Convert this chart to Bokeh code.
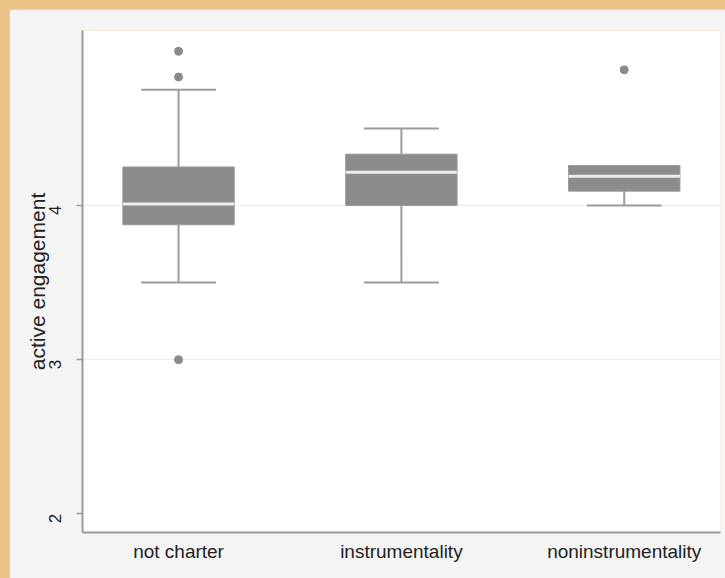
import math
from bokeh.plotting import figure
from bokeh.models import FixedTicker, Range1d
from bokeh.embed import file_html
from bokeh.resources import INLINE

# ---- data ----
categories = ["not charter", "instrumentality", "noninstrumentality"]
q1 = [3.875, 4.0, 4.093]
median = [4.01, 4.215, 4.19]
q3 = [4.25, 4.333, 4.259]
lower_whisker = [3.5, 3.5, 4.0]
upper_whisker = [4.75, 4.5, 4.259]
outlier_group = [0, 0, 0, 2]
outlier_value = [5.0, 4.833, 3.0, 4.88]
y_ticks = [2, 3, 4]
y_grid = [3, 4]
y_label = "active engagement"

# ---- styling ----
FONT = "Liberation Sans"
TEXT = "#222222"
AXIS = "#9a9a9a"
BOX = "#8c8c8c"
WHISK = "#9c9c9c"
BOX_W = 0.5
CAP_W = 0.336

xs = list(range(len(categories)))

p = figure(width=716, height=569, output_backend="svg", toolbar_location=None,
           x_range=Range1d(-0.431, 2.432), y_range=Range1d(1.879, 5.135),
           min_border_left=73, min_border_top=21, min_border_right=5,
           min_border_bottom=46)
p.border_fill_color = "#f4f4f4"
p.background_fill_color = "white"
p.outline_line_color = None

# whiskers
p.segment(x0=xs, y0=q3, x1=xs, y1=upper_whisker, line_color=WHISK, line_width=2)
p.segment(x0=xs, y0=q1, x1=xs, y1=lower_whisker, line_color=WHISK, line_width=2)
# caps (only where the whisker extends beyond the box)
for lo_hi, edge in ((upper_whisker, q3), (lower_whisker, q1)):
    cx = [x for x, w, e in zip(xs, lo_hi, edge) if w != e]
    cy = [w for w, e in zip(lo_hi, edge) if w != e]
    p.segment(x0=[x - CAP_W / 2 for x in cx], x1=[x + CAP_W / 2 for x in cx],
              y0=cy, y1=cy, line_color=WHISK, line_width=2)
# boxes
p.vbar(x=xs, width=BOX_W, bottom=q1, top=q3, fill_color=BOX,
       line_color="#999999", line_width=1)
# medians
p.segment(x0=[x - BOX_W / 2 for x in xs], x1=[x + BOX_W / 2 for x in xs],
          y0=median, y1=median, line_color="#ececec", line_width=3)
# outliers
p.scatter(x=[xs[g] for g in outlier_group], y=outlier_value, size=8,
          marker="circle", fill_color="#8a8a8a", line_color="#8a8a8a")

# axes
p.xaxis.ticker = FixedTicker(ticks=xs)
p.xaxis.major_label_overrides = {i: c for i, c in zip(xs, categories)}
p.xaxis.minor_tick_line_color = None
p.xaxis.major_tick_out = 0
p.xaxis.major_label_standoff = 8
p.yaxis.ticker = FixedTicker(ticks=y_ticks)
p.yaxis.minor_tick_line_color = None
p.yaxis.major_tick_out = 6
p.yaxis.major_tick_in = 0
p.yaxis.major_label_orientation = math.pi / 2
p.yaxis.major_label_standoff = 21
p.yaxis.axis_label = y_label
p.yaxis.axis_label_standoff = -8
for ax in (p.xaxis[0], p.yaxis[0]):
    ax.axis_line_color = AXIS
    ax.axis_line_width = 2
    ax.major_label_text_font = FONT
    ax.major_label_text_color = TEXT
    ax.axis_label_text_font = FONT
    ax.axis_label_text_color = TEXT
    ax.axis_label_text_font_style = "normal"
p.xaxis.major_tick_line_color = None
p.yaxis.major_tick_line_color = AXIS
p.yaxis.major_tick_line_width = 1.5
p.xaxis.major_label_text_font_size = "19px"
p.yaxis.major_label_text_font_size = "17px"
p.yaxis.axis_label_text_font_size = "21px"

p.xgrid.grid_line_color = None
p.ygrid.ticker = FixedTicker(ticks=y_grid)
p.ygrid.grid_line_color = "#ececec"
p.ygrid.grid_line_width = 1

template = """{% block postamble %}
<style>
html, body { background: #ebc388; margin: 0; padding: 0; overflow: hidden; }
body { padding: 9px 0 0 9px; }
</style>
{% endblock %}"""

open("out.html", "w").write(file_html(p, INLINE, template=template))
